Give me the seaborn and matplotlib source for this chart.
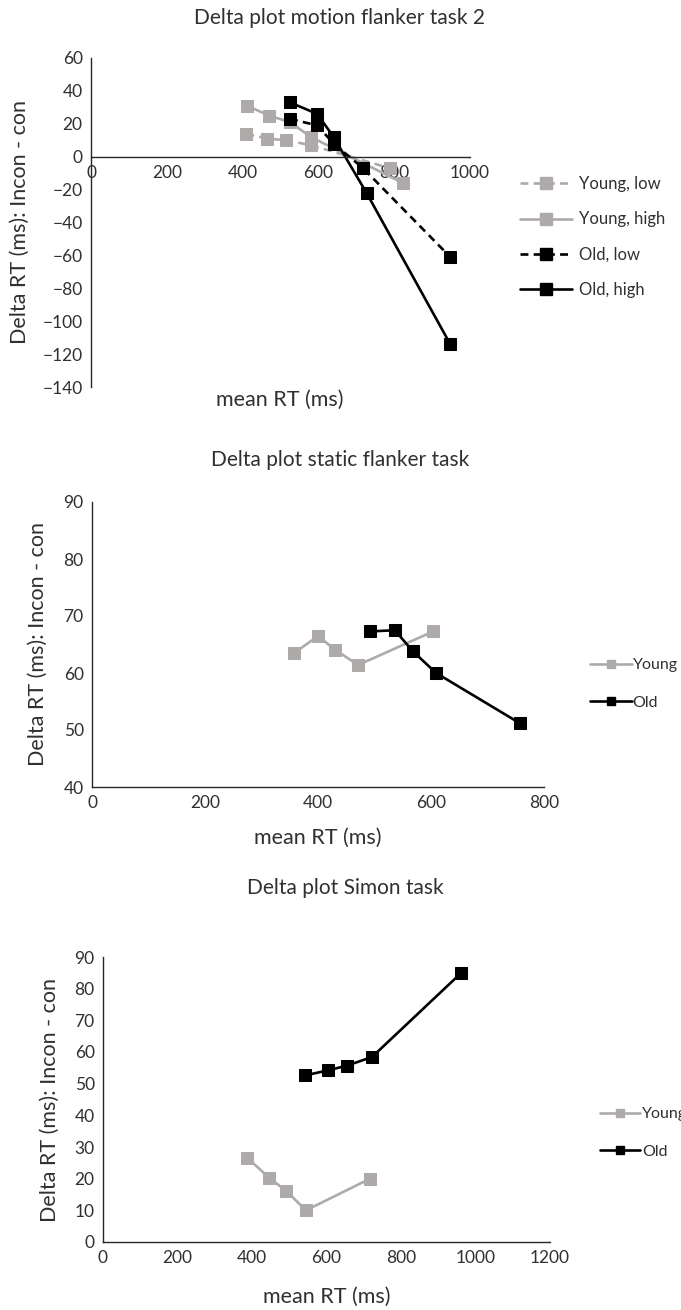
import matplotlib
matplotlib.use("Agg")
import matplotlib.pyplot as plt
import seaborn as sns
import pandas as pd
from matplotlib.lines import Line2D

# ---------------- data ----------------
# Panel 1: motion flanker task 2
p1_young_low_x = [410, 465, 515, 580, 789]
p1_young_low_y = [14, 11, 10, 7, -7]
p1_young_high_x = [411, 470, 525, 580, 823]
p1_young_high_y = [31, 25, 21, 12, -16]
p1_old_low_x = [525, 597, 640, 718, 948]
p1_old_low_y = [23, 19, 8, -7, -61]
p1_old_high_x = [525, 597, 640, 727, 948]
p1_old_high_y = [33, 26, 12, -22, -114]
p1_labels = ["Young, low", "Young, high", "Old, low", "Old, high"]

# Panel 2: static flanker task
p2_young_x = [358, 400, 430, 471, 604]
p2_young_y = [63.5, 66.5, 64.1, 61.4, 67.3]
p2_old_x = [492, 536, 568, 609, 757]
p2_old_y = [67.3, 67.5, 63.8, 60.0, 51.2]
p2_labels = ["Young", "Old"]

# Panel 3: Simon task
p3_young_x = [387, 446, 491, 545, 717]
p3_young_y = [26.6, 20.3, 16.2, 10.0, 20.0]
p3_old_x = [542, 604, 655, 722, 960]
p3_old_y = [52.6, 54.2, 55.7, 58.4, 84.8]
p3_labels = ["Young", "Old"]

titles = ["Delta plot motion flanker task 2", "Delta plot static flanker task", "Delta plot Simon task"]
xlabel = "mean RT (ms)"
ylabel = "Delta RT (ms): Incon - con"

# ---------------- style ----------------
sns.set_theme(style="white")
plt.rcParams["font.family"] = ["Lato", "DejaVu Sans"]

GRAY = "#AEAAAA"
BLACK = "#000000"
AX = "#262626"
TXT = "#303030"
LW = 1.9
MS = 8
DASH = (0, (3, 2))
TICK_FS = 12.5
LAB_FS = 15.5
TITLE_FS = 15

W, H = 681, 1310
fig = plt.figure(figsize=(W / 100, H / 100), dpi=100)


def px_axes(l, r, t, b):
    return fig.add_axes([l / W, 1 - b / H, (r - l) / W, (b - t) / H])


def style(ax):
    sns.despine(ax=ax)
    for s in ("left", "bottom"):
        ax.spines[s].set_color(AX)
        ax.spines[s].set_linewidth(1.0)
    ax.tick_params(direction="in", length=4, width=0.9, color=AX,
                   labelsize=TICK_FS, labelcolor=TXT, pad=6)
    ax.set_xlabel("")
    ax.set_ylabel("")
    ax.grid(False)


def series(ax, x, y, color, ls):
    df = pd.DataFrame({"x": x, "y": y})
    sns.lineplot(data=df, x="x", y="y", ax=ax, sort=False, color=color,
                 linewidth=LW, linestyle=ls, marker="s", markersize=MS,
                 markeredgecolor=color, markerfacecolor=color, legend=False)


def handle(color, ls, ms):
    return Line2D([], [], color=color, linewidth=LW, linestyle=ls, marker="s",
                  markersize=ms, markeredgecolor=color, markerfacecolor=color)


def ftext(x, y, s, size, rot=0, color=TXT):
    fig.text(x / W, 1 - y / H, s, ha="center", va="center", fontsize=size,
             rotation=rot, color=color)


# ---------------- panel 1 ----------------
ax1 = px_axes(91, 470, 58, 387)
series(ax1, p1_young_low_x, p1_young_low_y, GRAY, DASH)
series(ax1, p1_young_high_x, p1_young_high_y, GRAY, "-")
series(ax1, p1_old_low_x, p1_old_low_y, BLACK, DASH)
series(ax1, p1_old_high_x, p1_old_high_y, BLACK, "-")
ax1.set_xlim(0, 1000)
ax1.set_ylim(-140, 60)
ax1.set_xticks(range(0, 1001, 200))
ax1.set_yticks(range(-140, 61, 20))
style(ax1)
ax1.spines["bottom"].set_position(("data", 0))
fig.legend([handle(GRAY, DASH, 8), handle(GRAY, "-", 8), handle(BLACK, DASH, 8), handle(BLACK, "-", 8)],
           p1_labels, loc="center left", bbox_to_anchor=(520 / W, 1 - 237 / H),
           frameon=False, fontsize=12, handlelength=3.1, handletextpad=0.42,
           labelspacing=1.15, borderpad=0, borderaxespad=0, labelcolor=TXT)
ftext(340, 18, titles[0], TITLE_FS)
ftext(280, 400, xlabel, LAB_FS)
ftext(20, 222, ylabel, LAB_FS, rot=90)

# ---------------- panel 2 ----------------
ax2 = px_axes(92, 544, 502, 787)
series(ax2, p2_young_x, p2_young_y, GRAY, "-")
series(ax2, p2_old_x, p2_old_y, BLACK, "-")
ax2.set_xlim(0, 800)
ax2.set_ylim(40, 90)
ax2.set_xticks(range(0, 801, 200))
ax2.set_yticks(range(40, 91, 10))
style(ax2)
fig.legend([handle(GRAY, "-", 6), handle(BLACK, "-", 6)], p2_labels,
           loc="center left", bbox_to_anchor=(590 / W, 1 - 684 / H),
           frameon=False, fontsize=11.5, handlelength=2.6, handletextpad=0.06,
           labelspacing=1.45, borderpad=0, borderaxespad=0, labelcolor=TXT)
ftext(340, 460, titles[1], TITLE_FS)
ftext(318, 838, xlabel, LAB_FS)
ftext(38, 644, ylabel, LAB_FS, rot=90)

# ---------------- panel 3 ----------------
ax3 = px_axes(103, 550, 957, 1242)
series(ax3, p3_young_x, p3_young_y, GRAY, "-")
series(ax3, p3_old_x, p3_old_y, BLACK, "-")
ax3.set_xlim(0, 1200)
ax3.set_ylim(0, 90)
ax3.set_xticks(range(0, 1201, 200))
ax3.set_yticks(range(0, 91, 10))
style(ax3)
fig.legend([handle(GRAY, "-", 6), handle(BLACK, "-", 6)], p3_labels,
           loc="center left", bbox_to_anchor=(600 / W, 1 - 1133 / H),
           frameon=False, fontsize=11.5, handlelength=2.5, handletextpad=0.12,
           labelspacing=1.45, borderpad=0, borderaxespad=0, labelcolor=TXT)
ftext(345, 888, titles[2], TITLE_FS)
ftext(327, 1297, xlabel, LAB_FS)
ftext(50, 1100, ylabel, LAB_FS, rot=90)

fig.savefig("out.png", dpi=100, facecolor="white")
